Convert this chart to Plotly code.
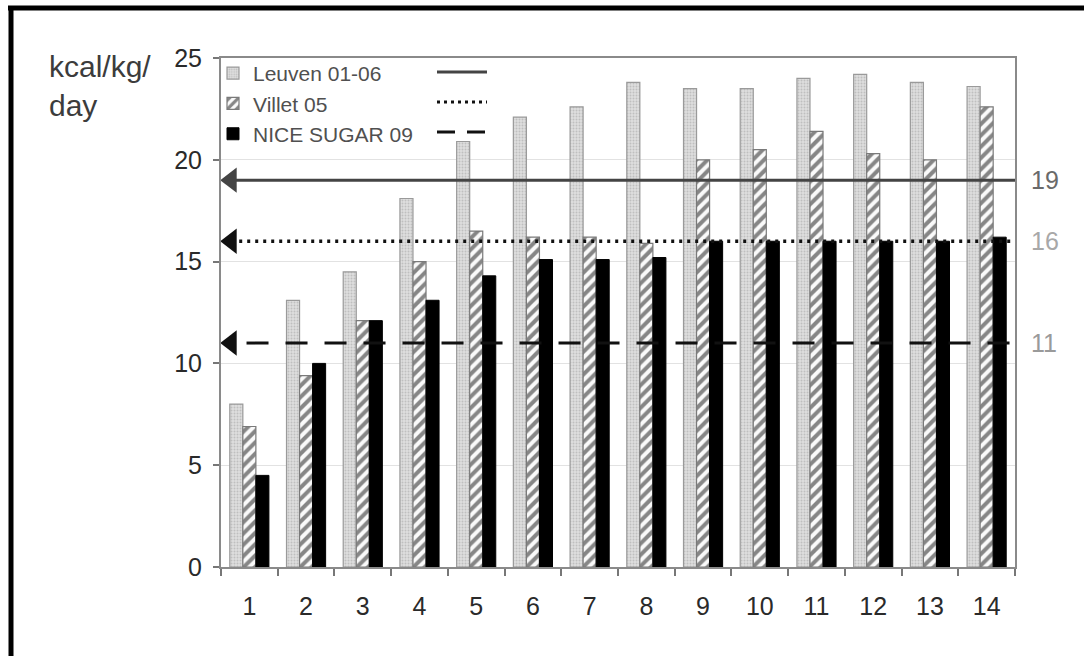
import plotly.graph_objects as go

# ---- data -------------------------------------------------------------
days = list(range(1, 15))
day_labels = [str(d) for d in days]

leuven = [8.0, 13.1, 14.5, 18.1, 20.9, 22.1, 22.6, 23.8, 23.5, 23.5, 24.0, 24.2, 23.8, 23.6]
villet = [6.9, 9.4, 12.1, 15.0, 16.5, 16.2, 16.2, 15.9, 20.0, 20.5, 21.4, 20.3, 20.0, 22.6]
nice_sugar = [4.5, 10.0, 12.1, 13.1, 14.3, 15.1, 15.1, 15.2, 16.0, 16.0, 16.0, 16.0, 16.0, 16.2]

series_names = ["Leuven 01-06", "Villet 05", "NICE SUGAR 09"]
target_levels = [19, 16, 11]          # caloric targets of each study
y_ticks = [0, 5, 10, 15, 20, 25]

# ---- geometry ---------------------------------------------------------
W, H = 1084, 656
ML, MR, MT, MB = 221, 69, 58, 89
PW, PH = W - ML - MR, H - MT - MB


def px_x(p):
    return (p - ML) / PW


def px_y(p):
    return (H - MB - p) / PH


FONT = "Liberation Sans, Arial, sans-serif"

line_styles = [
    dict(color="#444444", width=3, dash="solid"),
    dict(color="#111111", width=3.5, dash="3px,5px"),
    dict(color="#111111", width=3, dash="22px,17px"),
]
sample_dashes = ["solid", "3px,4px", "18px,12px"]
label_colors = ["#6a6a6a", "#a8a8a8", "#9a9a9a"]

fig = go.Figure()

fig.add_trace(go.Bar(
    x=days, y=leuven, name=series_names[0],
    marker=dict(color="#d6d6d6", line=dict(color="#9a9a9a", width=1.2),
                pattern=dict(shape=".", fgcolor="#a0a0a0", bgcolor="#dedede",
                             size=3, solidity=0.35)),
))
fig.add_trace(go.Bar(
    x=days, y=villet, name=series_names[1],
    marker=dict(color="#ffffff", line=dict(color="#7a7a7a", width=1.2),
                pattern=dict(shape="/", fgcolor="#111111", bgcolor="#fafafa",
                             size=8, solidity=0.5)),
))
fig.add_trace(go.Bar(
    x=days, y=nice_sugar, name=series_names[2],
    marker=dict(color="#000000", line=dict(color="#000000", width=1)),
))

# target lines with a left-pointing arrow head
ARROW_X = 0.68
LINE_END = 14.62
line_starts = [ARROW_X, ARROW_X, 0.95]
for lvl, st, start in zip(target_levels, line_styles, line_starts):
    fig.add_trace(go.Scatter(
        x=[start, LINE_END], y=[lvl, lvl], mode="lines",
        line=st, showlegend=False, cliponaxis=False, hoverinfo="skip",
    ))
    fig.add_trace(go.Scatter(
        x=[ARROW_X], y=[lvl], mode="markers",
        marker=dict(symbol="triangle-left", size=22, color=st["color"]),
        showlegend=False, cliponaxis=False, hoverinfo="skip",
    ))

# target values printed at the right end of each line
annotations = []
for lvl, col in zip(target_levels, label_colors):
    annotations.append(dict(
        x=px_x(1029), xref="paper", y=lvl, yref="y", text=str(lvl),
        showarrow=False, xanchor="left", yanchor="middle",
        font=dict(family=FONT, size=25, color=col),
    ))

annotations.append(dict(
    x=px_x(47), xref="paper", y=px_y(48), yref="paper",
    text="kcal/kg/<br>day", showarrow=False, xanchor="left", yanchor="top",
    align="left", font=dict(family=FONT, size=30, color="#3c3c3c"),
))

shapes = []
# line samples next to the legend entries
legend_rows = [72, 102, 132]
for row, st, dash in zip(legend_rows, line_styles, sample_dashes):
    shapes.append(dict(
        type="line", xref="paper", yref="paper",
        x0=px_x(437), x1=px_x(487), y0=px_y(row), y1=px_y(row),
        line=dict(color=st["color"], width=3, dash=dash),
    ))
# outer frame (top and left edges)
shapes.append(dict(type="line", xref="paper", yref="paper",
                   x0=px_x(8), x1=px_x(W + 5), y0=px_y(8), y1=px_y(8),
                   line=dict(color="#000000", width=5)))
shapes.append(dict(type="line", xref="paper", yref="paper",
                   x0=px_x(11), x1=px_x(11), y0=px_y(6), y1=px_y(H + 5),
                   line=dict(color="#000000", width=5)))

fig.update_layout(
    width=W, height=H,
    margin=dict(l=ML, r=MR, t=MT, b=MB),
    paper_bgcolor="white", plot_bgcolor="white",
    barmode="group", bargap=0.31, bargroupgap=0,
    font=dict(family=FONT, color="#333333"),
    showlegend=True,
    legend=dict(
        x=px_x(213), y=px_y(53), xanchor="left", yanchor="top",
        bgcolor="rgba(0,0,0,0)", borderwidth=0,
        font=dict(family=FONT, size=21, color="#505050"),
        tracegroupgap=0, itemclick=False, itemdoubleclick=False,
    ),
    xaxis=dict(
        range=[0.5, 14.5], tickmode="array", tickvals=days, ticktext=day_labels,
        ticks="", showgrid=False, zeroline=False,
        showline=True, linecolor="#8a8a8a", linewidth=2, mirror=True,
        tickfont=dict(family=FONT, size=25, color="#2a2a2a"),
        ticklabelstandoff=16,
        minor=dict(tickmode="array", tickvals=[d - 0.5 for d in days] + [14.5],
                   ticks="outside", ticklen=7, tickwidth=1.5, tickcolor="#777777",
                   showgrid=False),
    ),
    yaxis=dict(
        range=[0, 25], tickmode="array", tickvals=y_ticks,
        ticks="outside", ticklen=6, tickwidth=1.5, tickcolor="#777777",
        showgrid=True, gridcolor="#e2e2e2", gridwidth=1, zeroline=False,
        showline=True, linecolor="#8a8a8a", linewidth=2, mirror=True,
        tickfont=dict(family=FONT, size=25, color="#2a2a2a"),
        ticklabelstandoff=6,
    ),
    annotations=annotations,
    shapes=shapes,
)

fig.write_html("out.html")
